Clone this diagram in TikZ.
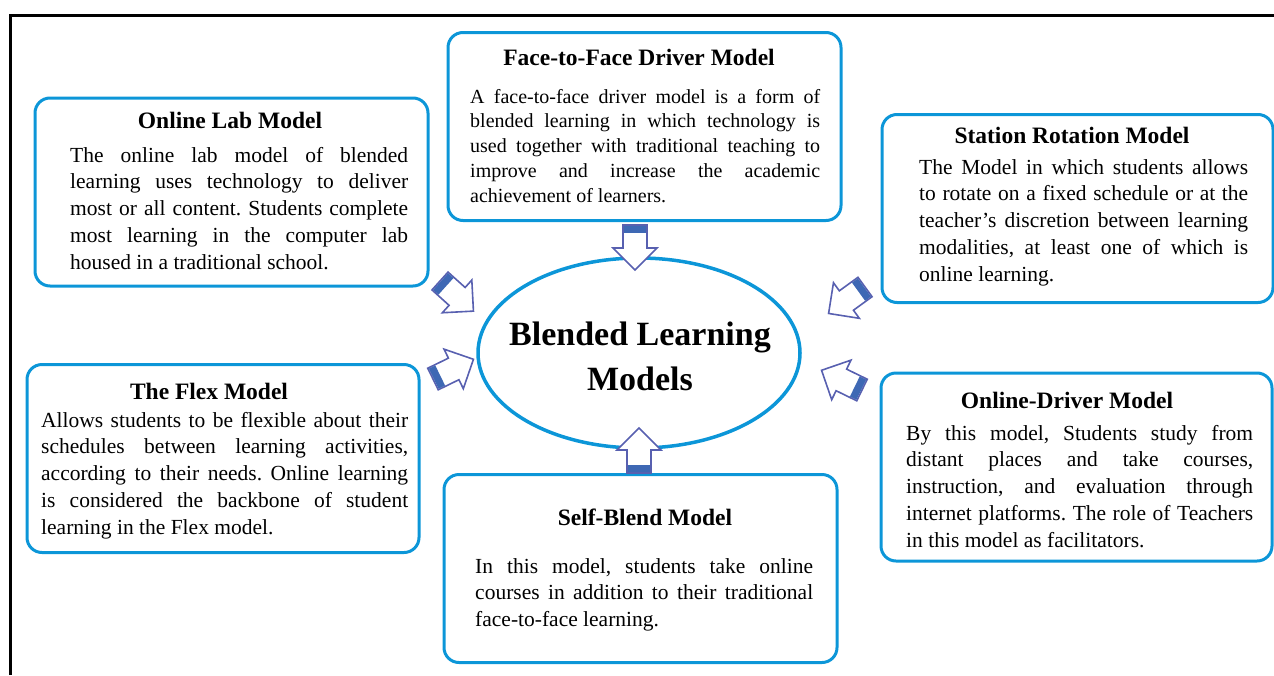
\documentclass[tikz,border=0pt]{standalone}
\usepackage{fontspec}
\setmainfont{Liberation Serif}
\usetikzlibrary{shapes.geometric}
\frenchspacing
\definecolor{boxblue}{RGB}{12,150,216}
\definecolor{arrowline}{RGB}{88,96,176}
\definecolor{arrowtail}{RGB}{62,104,180}
\newcommand{\bodyfont}{\fontsize{21.5}{26.8}\selectfont}
\newcommand{\smallbody}{\fontsize{20}{24.75}\selectfont}
\newcommand{\titlefont}{\fontsize{23.5}{28}\selectfont\bfseries}
\tikzstyle{modelbox}=[draw=boxblue, line width=3pt, rounded corners=15pt, inner sep=0pt, minimum height=188pt]
\tikzstyle{heading}=[font=\titlefont, inner sep=0pt, anchor=base]
\tikzstyle{body}=[font=\bodyfont, align=justify, inner sep=0pt, anchor=base west]
\tikzstyle{hub}=[ellipse, draw=boxblue, line width=3.5pt, minimum width=322pt, minimum height=190pt, inner sep=0pt]
\tikzstyle{hubtext}=[align=center, inner sep=0pt, font=\fontsize{34}{45}\selectfont\bfseries]
\tikzset{blockarrow/.pic={
  \filldraw[draw=arrowline, fill=white, line width=1.6pt] (0,-12) -- (23,-12) -- (23,-22) -- (45,0) -- (23,22) -- (23,12) -- (0,12) -- cycle;
  \fill[arrowtail] (0.8,-11.2) rectangle (8,11.2);
}}

\begin{document}
\begin{tikzpicture}[x=1pt, y=-1pt]
  \useasboundingbox (0,0) rectangle (1274,675);
  % frame round the figure
  \draw[line width=3pt] (10,675) -- (10,15) -- (1274,15);

  % First we draw the model boxes
  \foreach \pos/\w/\name in {{(231.5,192)/393/lab}, {(644.5,126.5)/393/face}, {(1077.5,208.5)/391/station},
                             {(223,458.5)/392/flex}, {(640.5,568.5)/393/self}, {(1076.5,467)/391/driver}}
    \node[modelbox, minimum width=\w pt] (\name) at \pos {};

  % the hub in the middle
  \node[hub] (blm) at (639,353) {};
  \node[hubtext] (blmT) at (640,356) {Blended Learning\\Models};

  % titles of the boxes
  \foreach \pos/\name/\title in {{(230,128)/labT/Online Lab Model}, {(639,65)/faceT/Face-to-Face Driver Model},
                                 {(1072,143)/stationT/Station Rotation Model}, {(209,399)/flexT/The Flex Model},
                                 {(645,525)/selfT/Self-Blend Model}, {(1067,408)/driverT/Online-Driver Model}}
    \node[heading] (\name) at \pos {\title};

  % Then the texts
  \node[body, text width=338pt] (labB) at (70,162) {The online lab model of blended\linebreak
    learning uses technology to deliver\linebreak most or all content. Students complete\linebreak
    most learning in the computer lab\linebreak housed in a traditional school.};
  \node[body, font=\smallbody, text width=350pt] (faceB) at (470,103) {A face-to-face driver model is a form of\linebreak
    blended learning in which technology is\linebreak used together with traditional teaching to\linebreak
    improve and increase the academic\linebreak achievement of learners.};
  \node[body, text width=329pt] (stationB) at (919,174) {The Model in which students allows\linebreak
    to rotate on a fixed schedule or at the\linebreak teacher’s discretion between learning\linebreak
    modalities, at least one of which is\linebreak online learning.};
  \node[body, text width=367pt] (flexB) at (41,427) {Allows students to be flexible about their\linebreak
    schedules between learning activities,\linebreak according to their needs. Online learning\linebreak
    is considered the backbone of student\linebreak learning in the Flex model.};
  \node[body, text width=338pt] (selfB) at (475,573) {In this model, students take online\linebreak
    courses in addition to their traditional\linebreak face-to-face learning.};
  \node[body, text width=347pt] (driverB) at (906,440) {By this model, Students study from\linebreak
    distant places and take courses,\linebreak instruction, and evaluation through\linebreak
    internet platforms. The role of Teachers\linebreak in this model as facilitators.};

  % block arrows pointing at the hub
  \foreach \x/\y/\angle in {635/225/-90, 639/473/90, 440/281/-42, 433/379/26, 865/287/-144, 862/390/154}
    \pic[rotate=\angle] at (\x,\y) {blockarrow};
\end{tikzpicture}
\end{document}
